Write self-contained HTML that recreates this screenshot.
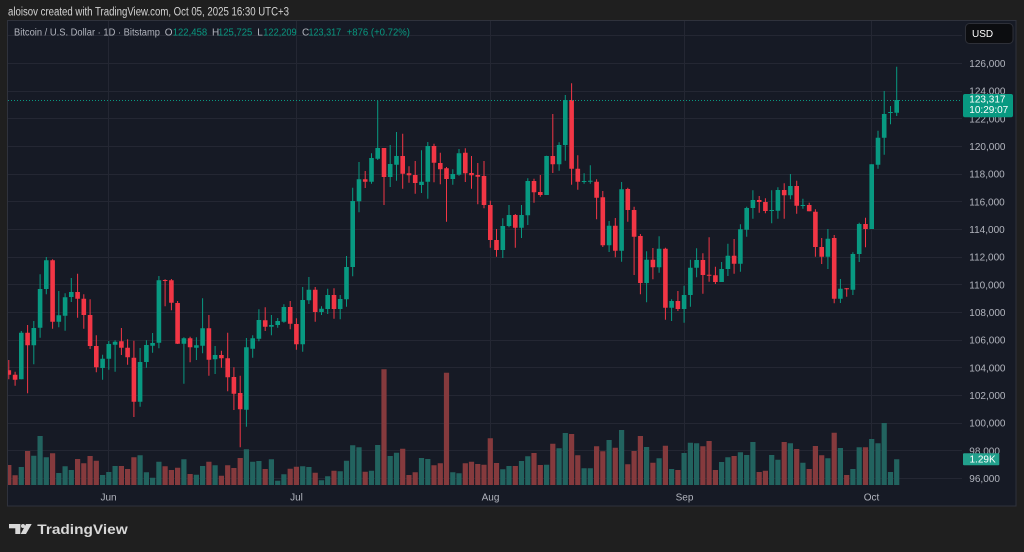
<!DOCTYPE html>
<html><head><meta charset="utf-8"><style>
html,body{margin:0;padding:0;background:#1f1f1f;width:1024px;height:552px;overflow:hidden}
svg{display:block}
</style></head><body>
<svg width="1024" height="552" viewBox="0 0 1024 552" xmlns="http://www.w3.org/2000/svg" font-family="'Liberation Sans', Arial, sans-serif">
<defs><clipPath id="plot"><rect x="8" y="21" width="954" height="464"/></clipPath></defs>
<rect x="0" y="0" width="1024" height="552" fill="#1f1f1f"/>
<text x="8" y="15.5" font-size="11.5" fill="#d4d4d4" textLength="281" lengthAdjust="spacingAndGlyphs">aloisov created with TradingView.com, Oct 05, 2025 16:30 UTC+3</text>
<rect x="7.5" y="20.5" width="1008.5" height="485.5" fill="#161a25" stroke="#2f323c" stroke-width="1"/>
<path d="M8 35.5H962M8 63.5H962M8 91.5H962M8 118.5H962M8 146.5H962M8 174.5H962M8 201.5H962M8 229.5H962M8 257.5H962M8 284.5H962M8 312.5H962M8 340.5H962M8 367.5H962M8 395.5H962M8 423.5H962M8 450.5H962M8 478.5H962M108.5 21V485M296.5 21V485M490.5 21V485M684.5 21V485M871.5 21V485" stroke="#242733" stroke-width="1" fill="none"/>
<g clip-path="url(#plot)" fill="none">
<path stroke="#22635f" stroke-width="5.2" d="M21.3 485V467M33.8 485V455.7M40.1 485V436M46.3 485V457.3M58.8 485V473M65.1 485V466.3M71.3 485V470M102.6 485V475M108.8 485V472M115.1 485V466M140.1 485V455.3M146.4 485V472.3M152.6 485V477.7M158.9 485V461.7M183.9 485V459.3M196.4 485V474.7M202.6 485V466M215.1 485V465.3M246.4 485V449.3M252.7 485V461.7M258.9 485V461M271.4 485V459.3M277.7 485V480.7M283.9 485V474.3M302.7 485V466.3M308.9 485V467M321.5 485V480.3M327.7 485V476.3M340.2 485V471.3M346.5 485V460.7M352.7 485V445.3M359 485V447.3M371.5 485V470.7M377.7 485V445M390.2 485V456M396.5 485V452.7M421.5 485V458M427.8 485V459M452.8 485V472.3M459 485V473.3M502.8 485V469.3M509 485V466M521.5 485V461M527.8 485V456.3M546.6 485V464.7M559.1 485V448.3M565.3 485V433M584.1 485V468.3M590.3 485V468.3M609.1 485V440M621.6 485V430M646.6 485V447M659.1 485V458.3M671.6 485V469M684.1 485V453M690.4 485V442.7M696.6 485V443.3M721.6 485V462M727.9 485V457.3M740.4 485V452.3M746.7 485V455M752.9 485V442M771.7 485V455M777.9 485V459.7M790.4 485V443.3M802.9 485V462.7M827.9 485V458.3M840.4 485V448M852.9 485V469M859.2 485V447.3M871.7 485V439M878 485V443.3M884.2 485V423M890.5 485V472M896.7 485V459.3"/>
<path stroke="#853a3d" stroke-width="5.2" d="M8.8 485V465M15.1 485V475.3M27.6 485V451M52.6 485V453.3M77.6 485V459M83.8 485V463.3M90.1 485V456M96.3 485V460.7M121.4 485V466M127.6 485V469M133.9 485V457.3M165.1 485V466.3M171.4 485V470M177.6 485V467.7M190.1 485V474M208.9 485V461.7M221.4 485V475.7M227.7 485V465.3M233.9 485V468M240.2 485V458M265.2 485V469M290.2 485V468.7M296.4 485V466.7M315.2 485V472.7M334 485V470.7M365.2 485V471.7M384 485V369.3M402.7 485V448.7M409 485V475M415.2 485V472.3M434 485V465.3M440.3 485V463.3M446.5 485V372.7M465.3 485V463.3M471.5 485V461.7M477.8 485V464M484 485V464.7M490.3 485V438.3M496.5 485V463M515.3 485V466M534 485V453M540.3 485V465M552.8 485V443.7M571.6 485V434M577.8 485V455.3M596.6 485V446.3M602.8 485V451.3M615.3 485V447.7M627.8 485V464.3M634.1 485V451M640.4 485V436M652.9 485V462.7M665.4 485V445.7M677.9 485V470M702.9 485V446.3M709.1 485V441M715.4 485V470M734.1 485V456M759.2 485V472M765.4 485V470.7M784.2 485V442M796.7 485V449M809.2 485V469M815.4 485V446M821.7 485V455.3M834.2 485V432.7M846.7 485V475M865.5 485V447.3"/>
<path stroke="#089981" stroke-width="1" d="M21.3 331V379.3M33.8 321V364.3M40.1 274.3V337.7M46.3 257V294.3M58.8 291V327.3M65.1 293.3V330.7M71.3 278V302M102.6 354.7V379.7M108.8 341V369.7M115.1 340.3V371.7M140.1 348V406.7M146.4 340.3V367.7M152.6 333V352.7M158.9 276V348.3M183.9 337.3V383.7M196.4 337.3V360M202.6 298.3V353.3M215.1 346V374M246.4 338V426.7M252.7 335.3V357.7M258.9 309.3V341.3M271.4 315V335.3M277.7 318V327.7M283.9 304.3V322.7M302.7 287V351.7M308.9 277V304M321.5 306.3V315M327.7 288.7V314M340.2 295V319.3M346.5 256V306.7M352.7 187.7V276.3M359 162V212.3M371.5 153.3V183.7M377.7 100.7V160M390.2 145V187M396.5 132V180.7M421.5 150.3V193M427.8 142V198.7M452.8 169.3V184.7M459 149V175.7M502.8 218.3V258M509 205V227.3M521.5 205V238M527.8 178.3V225M546.6 155.7V195M559.1 142.3V170.7M565.3 95V160.7M584.1 173.3V183.7M590.3 165.3V183.7M609.1 221V252M621.6 182V261.7M646.6 251.3V302.3M659.1 236.3V272.7M671.6 299.3V321M684.1 285.7V322.7M690.4 259.7V306.7M696.6 248.3V277.3M721.6 262V282M727.9 243.7V276M740.4 224.3V271.7M746.7 206.7V236.7M752.9 190.3V218.7M771.7 190.3V223.3M777.9 187.3V218.7M790.4 174V199.3M802.9 198.7V208.7M827.9 229V269M840.4 279V303M852.9 252.3V295M859.2 222.7V262M871.7 164.3V229M878 130.7V168.7M884.2 91V154.7M890.5 106V124.3M896.7 66.7V116"/>
<path stroke="#089981" stroke-width="4.6" d="M21.3 332.7V379.3M33.8 328V345.3M40.1 289V327.7M46.3 260.3V289M58.8 315.3V321.7M65.1 297.3V315.7M71.3 292V297M102.6 358.7V368M108.8 344V358.7M115.1 341.7V344.7M140.1 362V401.7M146.4 345V362M152.6 343V345.7M158.9 280.3V342.7M183.9 338.3V343.7M196.4 345.3V347.7M202.6 328.3V345.7M215.1 355V359.3M246.4 347.3V409.7M252.7 338.3V348.7M258.9 320V338.7M271.4 325V326.7M277.7 321V325M283.9 307V321.7M302.7 300V344.3M308.9 289.7V300.3M321.5 308.7V312M327.7 295V309M340.2 299V309M346.5 267V299.3M352.7 201V267M359 179.3V201.3M371.5 158V181.7M377.7 148V158.7M390.2 164V177M396.5 156V164.7M421.5 181.7V185M427.8 146V181.7M452.8 174V179M459 153.3V174.7M502.8 226V250M509 215V226M521.5 215V227.7M527.8 181V215.3M546.6 156V195M559.1 145V164.3M565.3 100V145M584.1 181V182M590.3 180.7V181.7M609.1 225.7V245.3M621.6 189.3V250.7M646.6 259.7V283M659.1 248.7V267.3M671.6 301V307.7M684.1 295V309M690.4 267.7V295M696.6 260V267.7M721.6 269V282M727.9 255.7V269M740.4 229.3V263.7M746.7 208V229.7M752.9 200V208M771.7 210V211M777.9 190V210.7M790.4 186V195.3M802.9 205V206M827.9 238.7V256.7M840.4 288.7V298.7M852.9 254V289.7M859.2 224V254M871.7 164.3V229M878 137.7V164.7M884.2 114V137.7M890.5 112V113M896.7 100V112.7"/>
<path stroke="#f23645" stroke-width="1" d="M8.8 360V379.3M15.1 371.7V385.7M27.6 325V393.3M52.6 259.3V328.7M77.6 273.7V317.7M83.8 294.3V328.7M90.1 299.3V349M96.3 335.3V372.3M121.4 328V355M127.6 339.3V364.7M133.9 340.7V417M165.1 279.3V306.3M171.4 279V310.3M177.6 301V344M190.1 336.7V362.3M208.9 315V375.7M221.4 350.7V367.7M227.7 332.7V391.3M233.9 367.3V410M240.2 375.7V447.3M265.2 307.3V331M290.2 301V329.3M296.4 318.3V349.7M315.2 287V321.7M334 288.3V318.7M365.2 171V188M384 148V205M402.7 133.7V188.7M409 166.3V182.7M415.2 161V193.7M434 143.7V182.3M440.3 152.7V184.3M446.5 167V221.7M465.3 148.3V182M471.5 156V188.7M477.8 163V204.3M484 161V208.3M490.3 200.7V247.7M496.5 229V256.7M515.3 214V247.7M534 178.7V202.7M540.3 175V196.7M552.8 114V173M571.6 83.3V184.7M577.8 155.3V189.7M596.6 179.3V219.3M602.8 191V247M615.3 218V257.3M627.8 187.7V221.7M634.1 206.7V275M640.4 234V294.3M652.9 248V279.3M665.4 247.7V319.7M677.9 291V311M702.9 253.3V293.7M709.1 237.3V281.7M715.4 266.7V284M734.1 239V273.7M759.2 196V212.7M765.4 198.3V213.3M784.2 183.3V218.7M796.7 180.7V213.7M809.2 202.7V211.3M815.4 209.3V256.7M821.7 238V264M834.2 235V303.3M846.7 288V296.7M865.5 217.7V247.3"/>
<path stroke="#f23645" stroke-width="4.6" d="M8.8 370.3V374.7M15.1 374.7V379.7M27.6 332.7V345.3M52.6 260.3V321.7M77.6 292V298.7M83.8 298.7V315M90.1 315V346M96.3 346V367.3M121.4 341.3V347.7M127.6 347.7V357.3M133.9 357.7V401.7M165.1 280V281M171.4 280.3V302.7M177.6 303V343.7M190.1 338.3V347.3M208.9 328.3V359.7M221.4 355V358.3M227.7 358.3V377.3M233.9 377V393.7M240.2 393V409.3M265.2 320.3V326.7M290.2 307V323.7M296.4 324V344.3M315.2 289.7V312M334 295V309M365.2 179.3V181.7M384 148V177M402.7 156V173.7M409 173.3V175.3M415.2 175V183M434 146V162.7M440.3 163V169.3M446.5 168.3V179M465.3 152.7V173.3M471.5 173V175.3M477.8 175V176.7M484 176V205M490.3 205V240M496.5 240V250M515.3 215V227.7M534 181V192.3M540.3 192V195M552.8 156V164.3M571.6 100V168.7M577.8 168.7V181.7M596.6 181.7V197.7M602.8 197.3V245.3M615.3 225.7V250.7M627.8 189V210M634.1 210V236.7M640.4 236V283M652.9 259.7V267.3M665.4 248.7V307.7M677.9 301V309M702.9 260V275M709.1 274.7V275.7M715.4 275.3V282M734.1 255.7V263.7M759.2 200V202M765.4 202V211M784.2 190V195.3M796.7 186V205.7M809.2 205V211.3M815.4 211.7V247M821.7 247V256.7M834.2 238V298.7M846.7 288.3V289.3M865.5 224V229"/>
<path d="M8 100.5H962" stroke="#089981" stroke-width="1" stroke-dasharray="1 2"/>
</g>
<g font-size="10">
<text x="14" y="35.5" fill="#b2b5be" textLength="146" lengthAdjust="spacingAndGlyphs">Bitcoin / U.S. Dollar · 1D · Bitstamp</text>
<text x="164.7" y="35.5" fill="#b2b5be">O</text>
<text x="172.7" y="35.5" fill="#089981" textLength="34.5" lengthAdjust="spacingAndGlyphs">122,458</text>
<text x="212" y="35.5" fill="#b2b5be">H</text>
<text x="218" y="35.5" fill="#089981" textLength="34.3" lengthAdjust="spacingAndGlyphs">125,725</text>
<text x="257.2" y="35.5" fill="#b2b5be">L</text>
<text x="263.3" y="35.5" fill="#089981" textLength="33.4" lengthAdjust="spacingAndGlyphs">122,209</text>
<text x="302" y="35.5" fill="#b2b5be">C</text>
<text x="308.5" y="35.5" fill="#089981" textLength="32.7" lengthAdjust="spacingAndGlyphs">123,317</text>
<text x="346.7" y="35.5" fill="#089981" textLength="63.3" lengthAdjust="spacingAndGlyphs">+876 (+0.72%)</text>
</g>
<g font-size="10" fill="#b2b5be">
<text x="969.3" y="67">126,000</text>
<text x="969.3" y="94.7">124,000</text>
<text x="969.3" y="122.3">122,000</text>
<text x="969.3" y="150">120,000</text>
<text x="969.3" y="177.7">118,000</text>
<text x="969.3" y="205.3">116,000</text>
<text x="969.3" y="233">114,000</text>
<text x="969.3" y="260.7">112,000</text>
<text x="969.3" y="288.3">110,000</text>
<text x="969.3" y="316">108,000</text>
<text x="969.3" y="343.7">106,000</text>
<text x="969.3" y="371.3">104,000</text>
<text x="969.3" y="399">102,000</text>
<text x="969.3" y="426.7">100,000</text>
<text x="969.3" y="454.3">98,000</text>
<text x="969.3" y="482">96,000</text>
</g>
<g font-size="10" fill="#b2b5be" text-anchor="middle">
<text x="108.5" y="500.5">Jun</text>
<text x="296.5" y="500.5">Jul</text>
<text x="490.5" y="500.5">Aug</text>
<text x="684.5" y="500.5">Sep</text>
<text x="871.5" y="500.5">Oct</text>
</g>
<rect x="963" y="94" width="50" height="23.3" rx="2" fill="#089981"/>
<text x="969.3" y="102.5" font-size="10" fill="#ffffff">123,317</text>
<text x="969.3" y="112.9" font-size="10" fill="#ffffff">10:29:07</text>
<rect x="963" y="453.3" width="36.3" height="12" rx="1" fill="#22a08c"/>
<text x="969.5" y="462.6" font-size="10" fill="#ffffff">1.29K</text>
<rect x="965.5" y="23.5" width="47.5" height="20" rx="4" fill="#0c0d10" stroke="#2e3038"/>
<text x="972" y="37" font-size="10" fill="#ffffff">USD</text>
<g fill="#d8d8d8">
<rect x="9" y="524" width="11.3" height="4.3"/>
<rect x="15.3" y="524" width="5" height="10"/>
<circle cx="23" cy="526" r="2"/>
<polygon points="26,524 31.7,524 26,534 20.7,534"/>
</g>
<text x="37.3" y="534" font-size="14" font-weight="bold" fill="#d8d8d8" textLength="90.4" lengthAdjust="spacingAndGlyphs">TradingView</text>
</svg>
</body></html>
